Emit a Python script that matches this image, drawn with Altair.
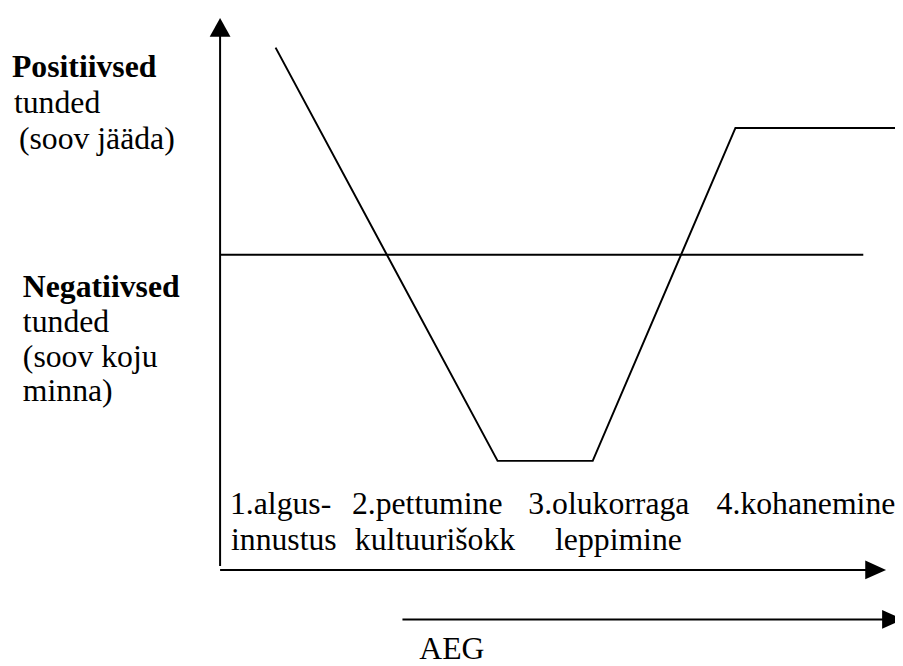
import altair as alt
import pandas as pd

# Diagram units: origin at the corner of the axes, x = time, y = feelings (up = positive)
curve_x = [56, 280, 376, 520, 681]
curve_y = [527, 110, 110, 446, 446]

neutral_y = 318          # boundary between positive / negative feelings
neutral_x_end = 649

# axis extents
v_axis_top = 540
h_axis_end = 660
time_axis_start, time_axis_end, time_axis_y = 184, 681, -50

# text labels
side_labels = ["Positiivsed", "tunded", "(soov jääda)",
               "Negatiivsed", "tunded", "(soov koju", "minna)"]
side_bold = [True, False, False, True, False, False, False]
side_x = [-210, -208, -203, -199, -199, -199, -199]
side_y = [497, 461, 425, 275, 240, 205, 170]

stage_labels = ["1.algus-", "2.pettumine", "3.olukorraga", "4.kohanemine",
                "innustus", "kultuurišokk", "leppimine"]
stage_x = [10, 133, 311, 501, 11, 136, 338]
stage_y = [56, 56, 56, 56, 20, 20, 20]

time_label = "AEG"
time_label_x, time_label_y = 201, -90

FONT = "Liberation Serif"
FS = 32

xs = alt.Scale(domain=[-214, 681], nice=False, zero=False)
ys = alt.Scale(domain=[-94, 564], nice=False, zero=False)
X = lambda f: alt.X(f, type="quantitative", scale=xs, axis=None)
Y = lambda f: alt.Y(f, type="quantitative", scale=ys, axis=None)

curve_df = pd.DataFrame({"x": curve_x, "y": curve_y, "o": range(len(curve_x))})
curve = alt.Chart(curve_df).mark_line(color="black", strokeWidth=2, clip=True).encode(
    x=X("x"), y=Y("y"), order="o:Q")

rules_df = pd.DataFrame({
    "x": [0, 0, 0, time_axis_start],
    "x2": [neutral_x_end, 0, h_axis_end, time_axis_end],
    "y": [neutral_y, 4, 0, time_axis_y],
    "y2": [neutral_y, v_axis_top, 0, time_axis_y],
})
rules = alt.Chart(rules_df).mark_rule(color="black", strokeWidth=2, clip=True).encode(
    x=X("x"), x2="x2", y=Y("y"), y2="y2")

up_df = pd.DataFrame({"x": [0], "y": [547.5]})
up = alt.Chart(up_df).mark_point(
    shape="M-1.05,0.95 L1.05,0.95 L0,-0.95 Z", size=400, filled=True,
    color="black", opacity=1, strokeWidth=0).encode(x=X("x"), y=Y("y"))

right_df = pd.DataFrame({"x": [661.5, 678.5], "y": [0, time_axis_y]})
right = alt.Chart(right_df).mark_point(
    shape="M-1.05,-0.95 L-1.05,0.95 L1.05,0 Z", size=400, filled=True,
    color="black", opacity=1, strokeWidth=0, clip=True).encode(x=X("x"), y=Y("y"))

side_df = pd.DataFrame({"t": side_labels, "x": side_x, "y": side_y, "b": side_bold})
side_bold_layer = alt.Chart(side_df[side_df.b]).mark_text(
    align="left", baseline="alphabetic", font=FONT, fontSize=FS, fontWeight="bold",
    color="black").encode(x=X("x"), y=Y("y"), text="t:N")
side_norm_layer = alt.Chart(side_df[~side_df.b]).mark_text(
    align="left", baseline="alphabetic", font=FONT, fontSize=FS,
    color="black").encode(x=X("x"), y=Y("y"), text="t:N")

stage_df = pd.DataFrame({"t": stage_labels, "x": stage_x, "y": stage_y})
stage_layer = alt.Chart(stage_df).mark_text(
    align="left", baseline="alphabetic", font=FONT, fontSize=FS,
    color="black").encode(x=X("x"), y=Y("y"), text="t:N")

time_df = pd.DataFrame({"t": [time_label], "x": [time_label_x], "y": [time_label_y]})
time_layer = alt.Chart(time_df).mark_text(
    align="left", baseline="alphabetic", font=FONT, fontSize=FS,
    color="black").encode(x=X("x"), y=Y("y"), text="t:N")

chart = alt.layer(curve, rules, up, right, side_bold_layer, side_norm_layer,
                  stage_layer, time_layer).properties(
    width=895, height=658, autosize=alt.AutoSizeParams(type="none"), padding=0,
    background="white"
).configure_view(stroke=None)

chart.save("out.html", embed_options={"renderer": "svg", "actions": False})
